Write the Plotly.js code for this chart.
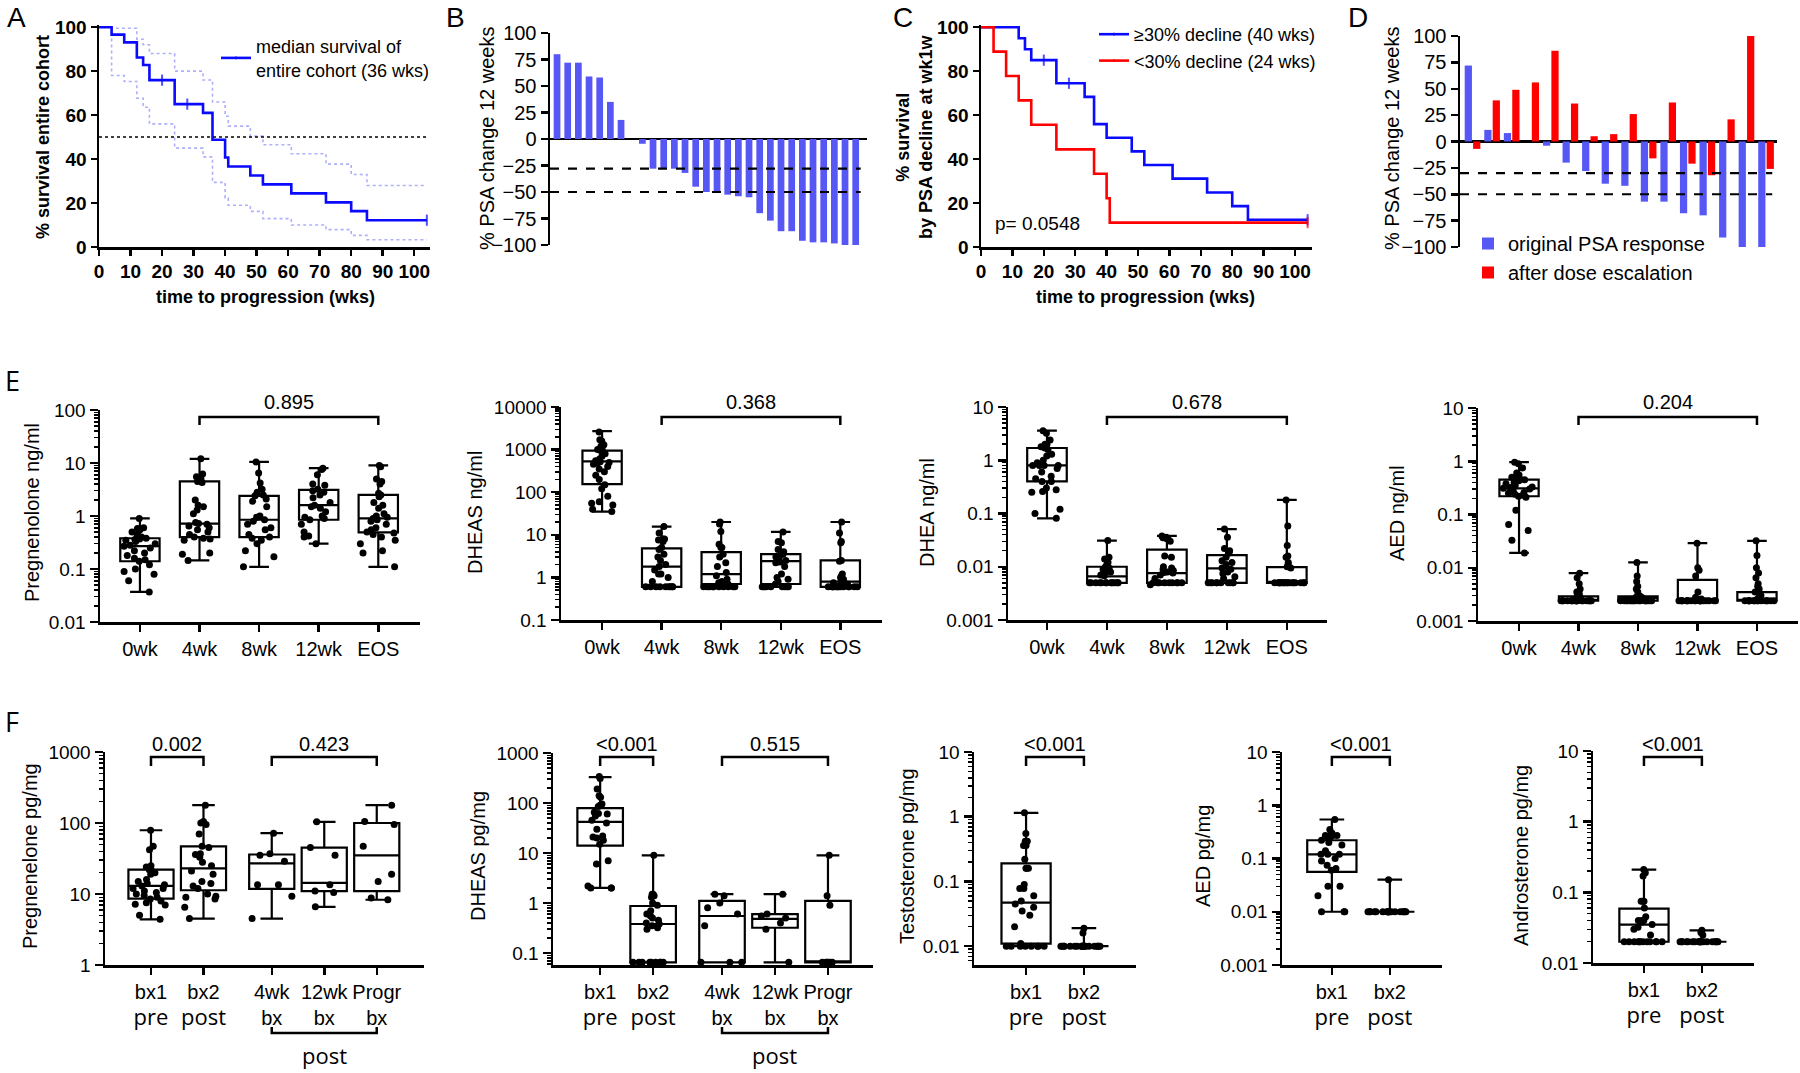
<!DOCTYPE html>
<html><head><meta charset="utf-8">
<script src="https://cdn.plot.ly/plotly-3.0.1.min.js"></script>
<style>html,body{margin:0;padding:0;background:#fff}#chart{width:1800px;height:1073px}</style>
</head><body><div id="chart"></div>
<script>
// ================= DATA =================
// Panel A – Kaplan-Meier, entire cohort
const A_time  = [0,4,8,12,14,16,20,24,28,33,36,40,41,48,52,61,72,80,85,104];
const A_surv  = [100,96.6,93.1,86.2,82.8,75.9,75.9,65.0,65.0,61.0,48.8,40.7,36.6,32.5,28.5,24.4,20.3,16.3,12.2,12.2];
const A_cens  = [0,0,0,0,0,0,1,0,1,0,0,0,0,0,0,0,0,0,0,1];
const A_upper = [100,99.5,99.5,94.5,92,88,88,80,80,76,66,59.5,55,50.5,46.5,42.4,37.7,33,28,28];
const A_lower = [100,78,75.3,67.7,63.6,56,56,45,45,41,29.4,22.3,19,16.2,12.9,10,7.9,5.3,3.3,3.3];
const A_median_level = 50;
const A_legend = 'median survival of<br>entire cohort (36 wks)';

// Panel B – waterfall of PSA change at 12 weeks
const B_values = [80,72,72,59,58,35,18,0,-4.5,-28,-28,-28,-32,-45,-50,-50,-52.5,-54,-55,-70,-77,-87,-87,-96,-97.5,-97.5,-98.5,-100,-100];
const B_thresholds = [-28,-50];

// Panel C – Kaplan-Meier by PSA decline
const C_hi_time = [0,12,14,16,20,24,28,33,36,40,48,52,61,72,80,85,104];
const C_hi_surv = [100,95,90,85,85,74.5,74.5,68.3,55.9,49.7,43.5,37.3,31.1,24.8,18.6,12.4,12.4];
const C_hi_cens = [0,0,0,0,1,0,1,0,0,0,0,0,0,0,0,0,1];
const C_lo_time = [0,4,8,12,16,24,36,40,41,104];
const C_lo_surv = [100,88.9,77.8,66.7,55.6,44.4,33.3,22.2,11.1,11.1];
const C_lo_cens = [0,0,0,0,0,0,0,0,0,1];
const C_names = ['\u226530% decline (40 wks)', '<30% decline (24 wks)'];
const C_pvalue = 'p= 0.0548';

// Panel D – PSA change, original vs after dose escalation
const D_original  = [72,11,8,0,-4,-20,-28,-40,-42,-57,-57,-68,-70,-91,-100,-100];
const D_escalated = [-7,39,49,56,86,36,5,7,26,-16,37,-21,-32,21,100,-26];
const D_names = ['original PSA response','after dose escalation'];
const D_thresholds = [-30,-50];

// Shared tick values
const KM_xticks = [0,10,20,30,40,50,60,70,80,90,100];
const KM_yticks = [0,20,40,60,80,100];
const PSA_yticks = [-100,-75,-50,-25,0,25,50,75,100];

// Panel E – serum steroids (ng/ml)
const E_categories = ['0wk','4wk','8wk','12wk','EOS'];
const E_titles = ['Pregnenolone ng/ml','DHEAS ng/ml','DHEA ng/ml','AED ng/ml'];
const E_pvalues = ['0.895','0.368','0.678','0.204'];
// box stats per category: [min, q1, median, q3, max]
const E1_box = [[0.037,0.14,0.27,0.38,0.9],[0.145,0.4,0.72,4.5,12],[0.11,0.4,0.85,2.4,10.5],[0.3,0.85,1.6,3.1,8],[0.11,0.49,0.9,2.5,9]];
const E1_pts = [
 [0.9,0.6,0.58,0.55,0.5,0.45,0.4,0.38,0.37,0.36,0.35,0.33,0.3,0.28,0.27,0.25,0.22,0.2,0.18,0.16,0.15,0.14,0.12,0.1,0.09,0.08,0.06,0.037],
 [12,6.2,5.5,5,4.8,4.5,4.3,2.0,1.6,1.5,1.3,1.1,0.75,0.72,0.7,0.65,0.6,0.55,0.5,0.45,0.4,0.38,0.37,0.35,0.2,0.19,0.145],
 [10.5,6.5,4.2,3.2,2.8,2.5,2.4,2.1,1.9,1.5,1.0,0.95,0.85,0.8,0.7,0.6,0.55,0.45,0.4,0.38,0.35,0.3,0.22,0.17,0.11],
 [8,7.5,6,4,3.8,3.2,3.0,2.8,2.5,2.2,1.8,1.6,1.5,1.4,1.2,1.0,0.95,0.9,0.85,0.7,0.5,0.42,0.4,0.3],
 [9,8.5,5,4.5,4,2.7,2.5,2.3,1.8,1.6,1.4,1.1,1.0,0.95,0.9,0.85,0.8,0.7,0.6,0.55,0.5,0.48,0.45,0.4,0.35,0.3,0.22,0.2,0.11]];
const E2_box = [[35,155,530,950,2700],[0.6,0.6,1.8,4.8,15.6],[0.6,0.7,1.2,3.9,20],[0.6,0.7,2.4,3.5,11.7],[0.6,0.6,0.8,2.5,20]];
const E2_pts = [
 [2600,1700,1600,1300,1200,1100,1000,950,900,800,700,600,550,520,500,480,450,400,350,300,250,200,150,120,80,60,55,50,40,35],
 [15.6,11,8,8,7.5,7,5,4.5,3.5,3,2.5,2,1.8,1.5,1.2,1.2,1.0,0.8,0.6,0.6,0.6,0.6,0.6,0.6,0.6,0.6,0.6],
 [20,18,12,6,5,5,3.5,3,2.2,1.8,1.3,1.1,0.9,0.8,0.75,0.7,0.6,0.6,0.6,0.6,0.6,0.6,0.6,0.6,0.6,0.6],
 [11.7,7,6.5,4.5,4,3.8,3.5,3.2,3,2.5,2.3,2.2,1.8,1.2,1.0,0.9,0.8,0.7,0.6,0.6,0.6,0.6,0.6,0.6,0.6,0.6],
 [20,11,7,6.5,2.5,2.4,1.2,1.1,1.0,0.9,0.8,0.75,0.7,0.6,0.6,0.6,0.6,0.6,0.6,0.6,0.6,0.6,0.6,0.6,0.6,0.6,0.6]];
const E3_box = [[0.081,0.4,0.8,1.7,3.6],[0.005,0.005,0.0066,0.01,0.031],[0.0046,0.005,0.0076,0.021,0.038],[0.005,0.005,0.0093,0.0166,0.051],[0.005,0.005,0.005,0.0098,0.18]];
const E3_pts = [
 [3.6,3.2,2.4,2.0,2.0,1.8,1.7,1.6,1.3,1.2,1.0,0.9,0.8,0.8,0.8,0.8,0.7,0.6,0.5,0.45,0.4,0.4,0.3,0.28,0.26,0.25,0.12,0.1,0.081],
 [0.031,0.015,0.014,0.012,0.011,0.01,0.0095,0.009,0.0085,0.008,0.0075,0.007,0.0068,0.005,0.005,0.005,0.005,0.005,0.005,0.005,0.005,0.005,0.005,0.005,0.005,0.005],
 [0.038,0.036,0.035,0.034,0.033,0.03,0.016,0.015,0.01,0.0095,0.009,0.0085,0.008,0.0078,0.0076,0.007,0.006,0.005,0.005,0.005,0.005,0.005,0.005,0.005,0.005,0.005,0.0046],
 [0.051,0.036,0.022,0.02,0.019,0.018,0.015,0.013,0.012,0.011,0.0095,0.009,0.008,0.0075,0.0065,0.006,0.005,0.005,0.005,0.005,0.005,0.005,0.005,0.005,0.005,0.005],
 [0.18,0.058,0.025,0.016,0.015,0.012,0.011,0.01,0.0095,0.005,0.005,0.005,0.005,0.005,0.005,0.005,0.005,0.005,0.005,0.005,0.005,0.005,0.005,0.005,0.005,0.005,0.005]];
const E4_box = [[0.019,0.22,0.31,0.45,0.96],[0.0024,0.0024,0.0025,0.0029,0.0079],[0.0024,0.0024,0.0027,0.0029,0.0126],[0.0024,0.0024,0.0025,0.0059,0.029],[0.0024,0.0024,0.0025,0.0035,0.032]];
const E4_pts = [
 [0.96,0.9,0.75,0.6,0.55,0.5,0.48,0.46,0.45,0.43,0.4,0.38,0.35,0.33,0.32,0.31,0.3,0.28,0.26,0.25,0.24,0.23,0.22,0.21,0.12,0.065,0.05,0.033,0.019],
 [0.0079,0.0065,0.005,0.004,0.0035,0.0032,0.003,0.0029,0.0028,0.0024,0.0024,0.0024,0.0024,0.0024,0.0024,0.0024,0.0024,0.0024,0.0024,0.0024,0.0024,0.0024,0.0024,0.0024,0.0024,0.0024,0.0024,0.0024],
 [0.0126,0.007,0.0055,0.0045,0.004,0.0035,0.003,0.0029,0.0028,0.0027,0.0024,0.0024,0.0024,0.0024,0.0024,0.0024,0.0024,0.0024,0.0024,0.0024,0.0024,0.0024,0.0024,0.0024,0.0024,0.0024,0.0024],
 [0.029,0.01,0.009,0.007,0.0035,0.0028,0.0026,0.0024,0.0024,0.0024,0.0024,0.0024,0.0024,0.0024,0.0024,0.0024,0.0024,0.0024,0.0024,0.0024,0.0024,0.0024,0.0024,0.0024,0.0024,0.0024,0.0024],
 [0.032,0.017,0.01,0.008,0.0065,0.005,0.0045,0.004,0.0035,0.003,0.0028,0.0026,0.0024,0.0024,0.0024,0.0024,0.0024,0.0024,0.0024,0.0024,0.0024,0.0024,0.0024,0.0024,0.0024,0.0024,0.0024,0.0024]];

// Panel F – tissue steroids (pg/mg)
const F_top = ['bx1','bx2','4wk','12wk','Progr'];
const F_bottom = ['pre','post','bx','bx','bx'];
const F_titles = ['Pregnenelone pg/mg','DHEAS pg/mg','Testosterone pg/mg','AED pg/mg','Androsterone pg/mg'];
const F_group_label = 'post';
const F1_box = [[4.4,8.6,13,22,79],[4.5,11.3,23,47,178],[4.5,11.8,27,36,72],[6.6,11,14.3,45,104],[8.3,11,35,100,178]];
const F1_pts = [
 [79,47,42,25,24,22,21,20,19,16,15,14,13.5,13,12,12,11,10.5,10,9.5,9,8.5,8,7.5,7.2,7,5,4.4],
 [178,105,100,95,70,47,45,37,36,33,28,25,21,19,15,14,13,12,10,9.3,9,8.5,6.5,4.5],
 [72,37,35,29,13.5,13.5,9.3,4.5],
 [104,45,35,13.5,11,10.5,6.6],
 [178,105,95,47,19,15,8.8,8.3]];
const F1_p = ['0.002','0.423'];
const F2_box = [[2,14,42,79,330],[0.065,0.065,0.38,0.87,9],[0.065,0.065,0.55,1.1,1.5],[0.065,0.32,0.48,0.6,1.5],[0.065,0.065,0.065,1.1,9]];
const F2_pts = [
 [340,310,190,140,130,95,90,85,65,62,60,55,45,40,30,22,21,20,18,15,7,6,2.2,2,2,2],
 [9,1.5,1.5,1.4,1.3,1.0,0.9,0.7,0.6,0.55,0.5,0.45,0.4,0.38,0.35,0.32,0.3,0.065,0.065,0.065,0.065,0.065,0.065,0.065,0.065,0.065],
 [1.5,1.4,1.0,0.8,0.6,0.35,0.065,0.065,0.065],
 [1.5,0.6,0.55,0.5,0.4,0.3,0.065],
 [9,1.4,0.9,0.065,0.065,0.065,0.065,0.065,0.065]];
const F2_p = ['<0.001','0.515'];
const F3_box = [[0.01,0.011,0.047,0.19,1.15],[0.01,0.01,0.01,0.01,0.019]];
const F3_pts = [
 [1.15,0.55,0.42,0.42,0.36,0.36,0.22,0.16,0.16,0.16,0.09,0.078,0.078,0.06,0.05,0.045,0.04,0.035,0.03,0.02,0.011,0.01,0.01,0.01,0.01,0.01,0.01,0.01,0.01],
 [0.019,0.016,0.01,0.01,0.01,0.01,0.01,0.01,0.01,0.01,0.01,0.01,0.01,0.01,0.01,0.01,0.01,0.01,0.01,0.01,0.01,0.01]];
const F4_box = [[0.01,0.056,0.12,0.22,0.54],[0.01,0.01,0.01,0.01,0.04]];
const F4_pts = [
 [0.54,0.35,0.3,0.27,0.27,0.27,0.27,0.27,0.25,0.22,0.2,0.18,0.14,0.12,0.12,0.12,0.1,0.09,0.075,0.065,0.06,0.03,0.03,0.02,0.01,0.01,0.01],
 [0.04,0.01,0.01,0.01,0.01,0.01,0.01,0.01,0.01,0.01,0.01,0.01,0.01,0.01,0.01,0.01,0.01,0.01,0.01,0.01,0.01]];
const F5_box = [[0.02,0.02,0.035,0.059,0.21],[0.02,0.02,0.02,0.02,0.029]];
const F5_pts = [
 [0.21,0.19,0.17,0.075,0.075,0.075,0.06,0.045,0.04,0.04,0.04,0.038,0.035,0.032,0.03,0.025,0.02,0.02,0.02,0.02,0.02,0.02,0.02,0.02,0.02,0.02,0.02,0.02],
 [0.029,0.027,0.025,0.02,0.02,0.02,0.02,0.02,0.02,0.02,0.02,0.02,0.02,0.02,0.02,0.02,0.02,0.02,0.02,0.02,0.02,0.02,0.02]];
const F_pair_p = '<0.001';

// ================= LAYOUT HELPERS =================
const W = 1800, H = 1073;
const FONT = '"Liberation Sans", Arial, Helvetica, sans-serif';
const FONT2 = '"Open Sans", "Noto Sans", sans-serif';
const BLUE = '#0a0aff', RED = '#ff0000', BAR_BLUE = '#5757f5', CI_BLUE = '#aeb0fb';
const xdom = (l, r) => [l / W, r / W];
const ydom = (t, b) => [1 - b / H, 1 - t / H];
const PX = x => x / W, PY = y => 1 - y / H;
const E_POS = [0,1,2,3,4];
const F_POS = [0,1,2.3,3.3,4.3];

function baseAxis(extra) {
  return Object.assign({showgrid:false, zeroline:false, showline:true, linecolor:'#000', linewidth:2.5,
    ticks:'outside', ticklen:7, tickwidth:2.5, tickcolor:'#000',
    tickfont:{family:FONT, size:19, color:'#000'}, fixedrange:true}, extra);
}
function minorTicks(lo, hi) {
  const v = [];
  for (let e = lo; e < hi; e++) for (let m = 2; m <= 9; m++) v.push(+(m * Math.pow(10, e)).toPrecision(3));
  return v;
}
function logTicks(lo, hi) {
  const v = [];
  for (let e = lo; e <= hi; e++) v.push(+Math.pow(10, e).toPrecision(3));
  return v;
}
function logAxis(domain, range, anchor, tickLo, tickHi) {
  const tv = logTicks(tickLo, tickHi);
  return baseAxis({type:'log', domain, range, anchor, tickvals:tv, ticktext:tv.map(String), ticklen:8,
    minor:{tickmode:'array', tickvals:minorTicks(Math.floor(range[0]), Math.ceil(range[1])),
      ticks:'outside', ticklen:4, tickwidth:1.5, tickcolor:'#000', showgrid:false}});
}
function censorSizes(cens) { return cens.map(c => c ? 8 : 0); }

// ================= TRACES =================
const traces = [];
// A
traces.push({type:'scatter', x:A_time, y:A_upper, mode:'lines', line:{shape:'hv', color:CI_BLUE, width:1.6, dash:'dot'}, xaxis:'x', yaxis:'y', showlegend:false, hoverinfo:'skip'});
traces.push({type:'scatter', x:A_time, y:A_lower, mode:'lines', line:{shape:'hv', color:CI_BLUE, width:1.6, dash:'dot'}, xaxis:'x', yaxis:'y', showlegend:false, hoverinfo:'skip'});
traces.push({type:'scatter', x:A_time, y:A_surv, mode:'lines+markers', name:A_legend,
  line:{shape:'hv', color:BLUE, width:2.6}, marker:{symbol:'line-ns', size:censorSizes(A_cens), line:{color:BLUE, width:2}},
  xaxis:'x', yaxis:'y', legend:'legend'});
// B
traces.push({type:'bar', x:B_values.map((_, i) => i), y:B_values, width:0.63, marker:{color:BAR_BLUE, line:{width:0}},
  xaxis:'x2', yaxis:'y2', showlegend:false});
// C
traces.push({type:'scatter', x:C_hi_time, y:C_hi_surv, mode:'lines+markers', name:C_names[0],
  line:{shape:'hv', color:BLUE, width:2.6}, marker:{symbol:'line-ns', size:censorSizes(C_hi_cens), line:{color:BLUE, width:2}},
  xaxis:'x3', yaxis:'y3', legend:'legend2'});
traces.push({type:'scatter', x:C_lo_time, y:C_lo_surv, mode:'lines+markers', name:C_names[1],
  line:{shape:'hv', color:RED, width:2.6}, marker:{symbol:'line-ns', size:censorSizes(C_lo_cens), line:{color:RED, width:2}},
  xaxis:'x3', yaxis:'y3', legend:'legend2'});
// D
traces.push({type:'bar', x:D_original.map((_, i) => i), y:D_original, name:D_names[0], width:0.37, offset:-0.40,
  marker:{color:BAR_BLUE, line:{width:0}}, xaxis:'x4', yaxis:'y4', legend:'legend3'});
traces.push({type:'bar', x:D_escalated.map((_, i) => i), y:D_escalated, name:D_names[1], width:0.37, offset:0.03,
  marker:{color:RED, line:{width:0}}, xaxis:'x4', yaxis:'y4', legend:'legend3'});

function boxTrace(pos, box, pts, xa, ya, width) {
  return {type:'box', orientation:'v', x:pos,
    lowerfence:box.map(b => b[0]), q1:box.map(b => b[1]), median:box.map(b => b[2]),
    q3:box.map(b => b[3]), upperfence:box.map(b => b[4]), y:pts,
    boxpoints:'all', jitter:0.95, pointpos:0, whiskerwidth:0.5, width:width,
    fillcolor:'rgba(0,0,0,0)', line:{color:'#000', width:2.2},
    marker:{color:'#000', size:7}, xaxis:xa, yaxis:ya, showlegend:false, hoverinfo:'skip'};
}
traces.push(boxTrace(E_POS, E1_box, E1_pts, 'x5', 'y5', 0.66));
traces.push(boxTrace(E_POS, E2_box, E2_pts, 'x6', 'y6', 0.66));
traces.push(boxTrace(E_POS, E3_box, E3_pts, 'x7', 'y7', 0.66));
traces.push(boxTrace(E_POS, E4_box, E4_pts, 'x8', 'y8', 0.66));
traces.push(boxTrace(F_POS, F1_box, F1_pts, 'x9', 'y9', 0.86));
traces.push(boxTrace(F_POS, F2_box, F2_pts, 'x10', 'y10', 0.86));
traces.push(boxTrace(F_POS.slice(0,2), F3_box, F3_pts, 'x11', 'y11', 0.85));
traces.push(boxTrace(F_POS.slice(0,2), F4_box, F4_pts, 'x12', 'y12', 0.85));
traces.push(boxTrace(F_POS.slice(0,2), F5_box, F5_pts, 'x13', 'y13', 0.85));

// ================= LAYOUT =================
const boldTick = {family:FONT, size:19, color:'#000', weight:'bold'};
const F_ticktext = F_top.map((t, i) => {
  const b = F_bottom[i];
  const bottom = (b === 'pre' || b === 'post') ? `<span style="font-family:'Open Sans';font-size:22px">${b}</span>` : b;
  return t + '<br>' + bottom;
});
const catAxis = (domain, range, anchor, pos, text) => baseAxis({domain, range, anchor, tickvals:pos, ticktext:text, ticklen:7, tickfont:{family:FONT, size:20, color:'#000'}});

const layout = {
  width:W, height:H, margin:{l:0, r:0, t:0, b:0}, paper_bgcolor:'#fff', plot_bgcolor:'rgba(0,0,0,0)',
  font:{family:FONT, color:'#000'}, barmode:'group',
  // A
  xaxis: baseAxis({domain:xdom(99,430), range:[0,105], anchor:'y', tickvals:KM_xticks, ticklen:6, tickfont:boldTick}),
  yaxis: baseAxis({domain:ydom(25,247), range:[0,101], anchor:'x', tickvals:KM_yticks, ticklen:6, tickfont:boldTick}),
  // B
  xaxis2: baseAxis({domain:xdom(550,867), range:[-0.66,29.06], anchor:'y2', showline:false, ticks:'', showticklabels:false}),
  yaxis2: baseAxis({domain:ydom(33,245), range:[-100,100], anchor:'x2', tickvals:PSA_yticks, tickfont:{family:FONT,size:20,color:'#000'}, zeroline:true, zerolinecolor:'#000', zerolinewidth:2.5}),
  // C
  xaxis3: baseAxis({domain:xdom(981,1312), range:[0,105.4], anchor:'y3', tickvals:KM_xticks, ticklen:6, tickfont:boldTick}),
  yaxis3: baseAxis({domain:ydom(25,247), range:[0,101], anchor:'x3', tickvals:KM_yticks, ticklen:6, tickfont:boldTick}),
  // D
  xaxis4: baseAxis({domain:xdom(1460,1777), range:[-0.64,15.56], anchor:'y4', showline:false, ticks:'', showticklabels:false}),
  yaxis4: baseAxis({domain:ydom(36,247), range:[-100,100], anchor:'x4', tickvals:PSA_yticks, tickfont:{family:FONT,size:20,color:'#000'}, zeroline:true, zerolinecolor:'#000', zerolinewidth:2.5}),
  // E
  xaxis5: catAxis(xdom(100,420), [-0.67,4.7], 'y5', E_POS, E_categories),
  yaxis5: logAxis(ydom(410,622), [-2,2], 'x5', -2, 2),
  xaxis6: catAxis(xdom(561,882), [-0.69,4.7], 'y6', E_POS, E_categories),
  yaxis6: logAxis(ydom(407,620), [-1,4], 'x6', -1, 4),
  xaxis7: catAxis(xdom(1008,1327), [-0.65,4.67], 'y7', E_POS, E_categories),
  yaxis7: logAxis(ydom(407,620), [-3,1], 'x7', -3, 1),
  xaxis8: catAxis(xdom(1478,1798), [-0.69,4.69], 'y8', E_POS, E_categories),
  yaxis8: logAxis(ydom(408,621), [-3,1], 'x8', -3, 1),
  // F
  xaxis9: catAxis(xdom(105,424), [-0.876,5.2], 'y9', F_POS, F_ticktext),
  yaxis9: logAxis(ydom(752,965), [0,3], 'x9', 0, 3),
  xaxis10: catAxis(xdom(553,873), [-0.89,5.15], 'y10', F_POS, F_ticktext),
  yaxis10: logAxis(ydom(753,965), [-1.24,3], 'x10', -1, 3),
  xaxis11: catAxis(xdom(974,1136), [-0.9,1.9], 'y11', F_POS.slice(0,2), F_ticktext.slice(0,2)),
  yaxis11: logAxis(ydom(752,965), [-2.29,1], 'x11', -2, 1),
  xaxis12: catAxis(xdom(1282,1442), [-0.86,1.9], 'y12', F_POS.slice(0,2), F_ticktext.slice(0,2)),
  yaxis12: logAxis(ydom(752,965), [-3,1], 'x12', -3, 1),
  xaxis13: catAxis(xdom(1593,1754), [-0.88,1.9], 'y13', F_POS.slice(0,2), F_ticktext.slice(0,2)),
  yaxis13: logAxis(ydom(751,963), [-2,1], 'x13', -2, 1),
  legend: {x:PX(216), y:PY(28), xanchor:'left', yanchor:'top', bgcolor:'rgba(0,0,0,0)', font:{family:FONT,size:18,color:'#000'}, itemsizing:'trace'},
  legend2: {x:PX(1094), y:PY(16), xanchor:'left', yanchor:'top', bgcolor:'rgba(0,0,0,0)', font:{family:FONT,size:18,color:'#000'}, itemsizing:'trace', tracegroupgap:0},
  legend3: {x:PX(1468), y:PY(224), xanchor:'left', yanchor:'top', bgcolor:'rgba(0,0,0,0)', font:{family:FONT,size:20,color:'#000'}, tracegroupgap:0},
  shapes: [], annotations: []
};

// reference lines
layout.shapes.push({type:'line', xref:'x', yref:'y', x0:A_time[0], x1:A_time[A_time.length-1], y0:A_median_level, y1:A_median_level, line:{color:'#000', width:1.5, dash:'dot'}});
B_thresholds.forEach(t => layout.shapes.push({type:'line', xref:'x2 domain', yref:'y2', x0:0, x1:0.98, y0:t, y1:t, line:{color:'#000', width:2.2, dash:'dash'}}));
D_thresholds.forEach(t => layout.shapes.push({type:'line', xref:'x4 domain', yref:'y4', x0:0, x1:0.985, y0:t, y1:t, line:{color:'#000', width:2.2, dash:'dash'}}));

function bracket(xref, x0, x1, yLine, yEnd) {
  layout.shapes.push({type:'path', xref:xref, yref:'paper',
    path:`M${x0},${PY(yEnd)} L${x0},${PY(yLine)} L${x1},${PY(yLine)} L${x1},${PY(yEnd)}`,
    line:{color:'#000', width:2.5}});
}
function ann(text, x, y, opts) {
  layout.annotations.push(Object.assign({text, x, y, xref:'paper', yref:'paper', showarrow:false,
    xanchor:'center', yanchor:'middle', font:{family:FONT, size:19, color:'#000'}}, opts || {}));
}
// E brackets
['x5','x6','x7','x8'].forEach((xa, i) => {
  bracket(xa, E_POS[1], E_POS[4], 417, 425);
  ann(E_pvalues[i], (E_POS[1] + E_POS[4]) / 2, PY(402), {xref:xa, font:{family:FONT, size:20, color:'#000'}});
});
// F brackets
[['x9',F1_p],['x10',F2_p]].forEach(([xa, ps]) => {
  bracket(xa, F_POS[0], F_POS[1], 757, 766);
  ann(ps[0], (F_POS[0] + F_POS[1]) / 2, PY(744), {xref:xa, font:{family:FONT, size:20, color:'#000'}});
  bracket(xa, F_POS[2], F_POS[4], 757, 766);
  ann(ps[1], (F_POS[2] + F_POS[4]) / 2, PY(744), {xref:xa, font:{family:FONT, size:20, color:'#000'}});
  bracket(xa, F_POS[2], F_POS[4], 1033, 1027);
  ann(F_group_label, F_POS[3], PY(1055), {xref:xa, font:{family:FONT2, size:22, color:'#000'}});
});
['x11','x12','x13'].forEach(xa => {
  bracket(xa, F_POS[0], F_POS[1], 757, 766);
  ann(F_pair_p, (F_POS[0] + F_POS[1]) / 2, PY(744), {xref:xa, font:{family:FONT, size:20, color:'#000'}});
});

// axis titles
const boldTitle = {family:FONT, size:18, color:'#000', weight:'bold'};
ann('% survival entire cohort', PX(43), PY(137), {textangle:-90, font:boldTitle});
ann('time to progression (wks)', PX(265), PY(297), {font:boldTitle});
ann('% PSA change 12 weeks', PX(487), PY(139), {textangle:-90, font:{family:FONT,size:20,color:'#000'}});
ann('% survival<br>by PSA decline at wk1w', PX(914), PY(137), {textangle:-90, font:boldTitle});
ann('time to progression (wks)', PX(1145), PY(297), {font:boldTitle});
ann('% PSA change 12 weeks', PX(1392), PY(139), {textangle:-90, font:{family:FONT,size:20,color:'#000'}});
ann(C_pvalue, PX(993), PY(223), {xanchor:'left', font:{family:FONT,size:19,color:'#000'}});
const E_titleX = [32, 475, 927, 1397];
E_titles.forEach((t, i) => ann(t, PX(E_titleX[i]), PY(513), {textangle:-90, font:{family:FONT, size:20, color:'#000'}}));
const F_titleX = [30, 478, 907, 1203, 1521];
F_titles.forEach((t, i) => ann(t, PX(F_titleX[i]), PY(856), {textangle:-90, font:{family:FONT, size:20, color:'#000'}}));

// panel letters
const letterFont = {family:FONT, size:28, color:'#000'};
ann('A', PX(16), PY(18), {font:letterFont});
ann('B', PX(455), PY(18), {font:letterFont});
ann('C', PX(903), PY(18), {font:letterFont});
ann('D', PX(1358), PY(18), {font:letterFont});
ann('E', PX(12), PY(380), {font:{family:FONT2, size:27, color:'#000'}});
ann('F', PX(12), PY(721), {font:{family:FONT2, size:27, color:'#000'}});

Plotly.newPlot('chart', traces, layout, {staticPlot:true, displayModeBar:false});
</script>
</body></html>
